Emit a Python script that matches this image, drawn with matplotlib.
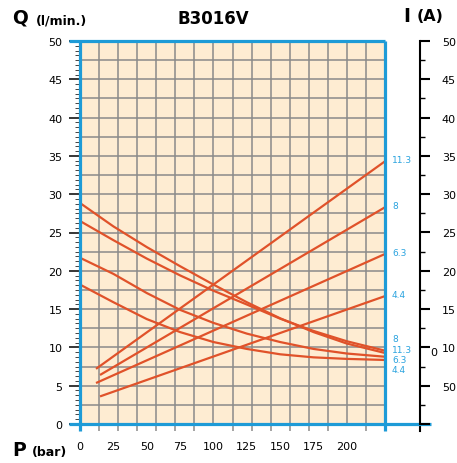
import matplotlib
matplotlib.use('Agg')
import matplotlib.pyplot as plt
import numpy as np

# ---------------- data ----------------
P_curve = [0, 25, 50, 75, 100, 125, 150, 175, 200, 228.6]
Q_11_3 = [28.85, 25.8, 23.1, 20.6, 18.2, 15.9, 13.8, 12.0, 10.5, 9.27]
Q_8 = [26.5, 24.0, 21.6, 19.4, 17.4, 15.6, 13.75, 12.15, 10.8, 9.57]
Q_6_3 = [21.7, 19.6, 17.1, 14.9, 13.2, 11.8, 10.7, 9.8, 9.2, 8.78]
Q_4_4 = [18.2, 15.9, 13.7, 12.0, 10.7, 9.8, 9.1, 8.7, 8.5, 8.36]
q_series = [Q_11_3, Q_8, Q_6_3, Q_4_4]
q_labels = ['8', '11.3', '6.3', '4.4']          # order shown at right, top to bottom

P_11_3 = [12, 228.6]; I_11_3 = [7.2, 34.3]
P_8 = [15, 228.6];    I_8 = [6.4, 28.3]
P_6_3 = [12, 228.6];  I_6_3 = [5.35, 22.2]
P_4_4 = [15, 228.6];  I_4_4 = [3.6, 16.7]
i_series = [(P_11_3, I_11_3, '11.3'), (P_8, I_8, '8'),
            (P_6_3, I_6_3, '6.3'), (P_4_4, I_4_4, '4.4')]

x_ticks = [0, 25, 50, 75, 100, 125, 150, 175, 200]
y_ticks = [0, 5, 10, 15, 20, 25, 30, 35, 40, 45, 50]
right_labels = ['', '50', '10', '15', '20', '25', '30', '35', '40', '45', '50']

# ---------------- style ----------------
W, H = 457, 464
BLUE = '#1E9BD7'
RED = '#E0522A'
GRID = '#8A8A8A'
LBL = '#2AA3DF'
XMAX = 200 / 14 * 16

fig = plt.figure(figsize=(W / 100, H / 100), dpi=100)
ax = fig.add_axes([80 / W, 39 / H, 305 / W, 383 / H])
ax.set_xlim(0, XMAX)
ax.set_ylim(0, 50)
ax.set_facecolor('#FEECD2')
for s in ax.spines.values():
    s.set_visible(False)

gridx = np.arange(17) * 200 / 14
for gx in gridx:
    ax.axvline(gx, color=GRID, lw=1.1, zorder=1)
for gy in np.arange(0, 50.01, 2.5):
    ax.axhline(gy, color=GRID, lw=1.1, zorder=1)

# x ticks
ax.set_xticks(x_ticks)
ax.set_xticklabels([str(v) for v in x_ticks])
ax.set_xticks(gridx, minor=True)
ax.tick_params(axis='x', which='major', length=0, pad=12, labelsize=8)
ax.tick_params(axis='x', which='minor', length=5, width=1.1, color=GRID, direction='out')

# left y ticks
ax.set_yticks(y_ticks)
ax.set_yticklabels([str(v) for v in y_ticks])
ax.set_yticks(np.arange(0, 50.01, 0.625), minor=True)
ax.tick_params(axis='y', which='major', length=8, width=1.1, color='black', pad=4.5, labelsize=8)
ax.tick_params(axis='y', which='minor', length=3.6, width=0.7, color='#444444')

# blue frame lines
ext_l = -11 / 305
ext_r = (431 - 80) / 305
ext_b = -7 / 383
kw = dict(transform=ax.transAxes, clip_on=False, color=BLUE, lw=2.3, zorder=6,
          solid_capstyle='butt')
ax.plot([ext_l, 1], [1, 1], **kw)
ax.plot([ext_l, ext_r], [0, 0], **kw)
ax.plot([0, 0], [ext_b, 1], **kw)
ax.plot([1, 1], [ext_b, 1], **kw)

# curves
for q in q_series:
    ax.plot(P_curve, q, color=RED, lw=1.6, zorder=4, solid_capstyle='butt')
for p, i, lab in i_series:
    ax.plot(p, i, color=RED, lw=1.6, zorder=4, solid_capstyle='butt')
    ax.text(1.023, i[-1] + 0.2, lab, transform=ax.get_yaxis_transform(),
            color=LBL, fontsize=6.5, ha='left', va='center')

for k, lab in enumerate(q_labels):
    ax.text(1.023, 11.1 - 1.35 * k, lab, transform=ax.get_yaxis_transform(),
            color=LBL, fontsize=6.5, ha='left', va='center')

# right black axis
xr = (420 - 80) / 305
tw = ax.twinx()
tw.set_ylim(0, 50)
for name, s in tw.spines.items():
    s.set_visible(name == 'right')
tw.spines['right'].set_position(('axes', xr))
tw.spines['right'].set_linewidth(1.5)
tw.spines['right'].set_color('black')
tw.set_yticks(y_ticks)
tw.set_yticklabels(right_labels)
tw.set_yticks(np.arange(0, 50.01, 2.5), minor=True)
tw.tick_params(axis='y', which='major', length=7.2, width=1.5, pad=8.5, labelsize=8,
               direction='out', color='black')
tw.tick_params(axis='y', which='minor', length=3.6, width=1.0, direction='out', color='black')
ax.plot([xr, xr], [ext_b, 0], transform=ax.transAxes, clip_on=False, color='black', lw=1.5)
fig.text(434 / W, 1 - 353 / H, '0', fontsize=8, ha='center', va='center')

# titles / axis names
fig.text(213 / W, 1 - 24 / H, 'B3016V', fontsize=12, fontweight='bold', ha='center',
         va='baseline')
fig.text(12 / W, 1 - 24 / H, 'Q', fontsize=13.5, fontweight='bold', va='baseline')
fig.text(36 / W, 1 - 24 / H, '(l/min.)', fontsize=9, fontweight='bold', va='baseline')
fig.text(403 / W, 1 - 22 / H, 'I', fontsize=13.5, fontweight='bold', va='baseline')
fig.text(417 / W, 1 - 21 / H, '(A)', fontsize=11.5, fontweight='bold', va='baseline')
fig.text(12 / W, 1 - 456.5 / H, 'P', fontsize=13.5, fontweight='bold', va='baseline')
fig.text(32 / W, 1 - 456 / H, '(bar)', fontsize=9, fontweight='bold', va='baseline')

fig.savefig('out.png', dpi=100)
